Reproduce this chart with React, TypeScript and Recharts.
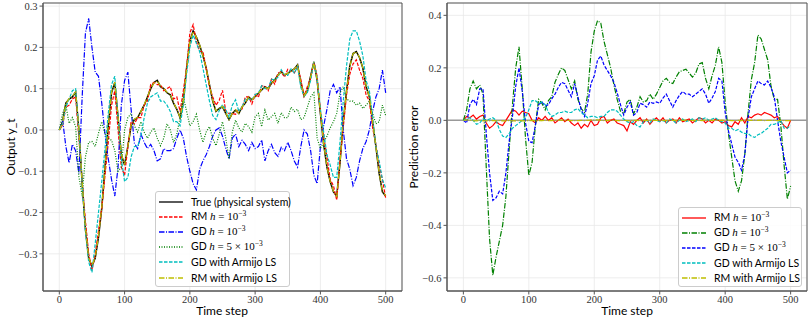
import React from 'react';
import { LineChart, Line, XAxis, YAxis, CartesianGrid, ReferenceLine, ReferenceArea, Legend, Label } from 'recharts';

// ---------------- data (every 5 time steps) ----------------
const timeSteps = [
  0, 5, 10, 15, 20, 25, 30, 35, 40, 45,
  50, 55, 60, 65, 70, 75, 80, 85, 90, 95,
  100, 105, 110, 115, 120, 125, 130, 135, 140, 145,
  150, 155, 160, 165, 170, 175, 180, 185, 190, 195,
  200, 205, 210, 215, 220, 225, 230, 235, 240, 245,
  250, 255, 260, 265, 270, 275, 280, 285, 290, 295,
  300, 305, 310, 315, 320, 325, 330, 335, 340, 345,
  350, 355, 360, 365, 370, 375, 380, 385, 390, 395,
  400, 405, 410, 415, 420, 425, 430, 435, 440, 445,
  450, 455, 460, 465, 470, 475, 480, 485, 490, 495,
  500,
];

// Left panel: outputs
const trueOutput = [
  0.0, 0.02, 0.065, 0.075, 0.08, 0.092, 0.0, -0.13, -0.24, -0.31,
  -0.33, -0.31, -0.26, -0.19, -0.09, 0.01, 0.09, 0.115, 0.03, -0.06,
  -0.085, -0.04, 0.01, 0.025, 0.03, 0.045, 0.06, 0.08, 0.1, 0.115,
  0.12, 0.105, 0.1, 0.09, 0.085, 0.065, 0.05, 0.03, 0.07, 0.15,
  0.215, 0.24, 0.225, 0.205, 0.18, 0.15, 0.11, 0.07, 0.045, 0.052,
  0.056, 0.04, 0.025, 0.04, 0.048, 0.04, 0.056, 0.065, 0.08, 0.073,
  0.081, 0.089, 0.097, 0.105, 0.1, 0.113, 0.121, 0.133, 0.141, 0.133,
  0.137, 0.143, 0.148, 0.158, 0.113, 0.082, 0.095, 0.13, 0.165, 0.12,
  0.04, -0.035, -0.09, -0.125, -0.15, -0.16, -0.08, 0.02, 0.095, 0.155,
  0.185, 0.19, 0.175, 0.15, 0.105, 0.08, 0.02, -0.04, -0.105, -0.15,
  -0.16,
];
const rmOutput = [
  0.0, 0.01, 0.055, 0.06, 0.075, 0.08, -0.02, -0.125, -0.22, -0.3,
  -0.34, -0.3, -0.245, -0.19, -0.11, -0.03, 0.06, 0.095, 0.0, -0.09,
  -0.11, -0.04, 0.02, 0.015, 0.03, 0.03, 0.06, 0.07, 0.11, 0.115,
  0.11, 0.11, 0.095, 0.1, 0.105, 0.075, 0.08, 0.045, 0.095, 0.15,
  0.235, 0.255, 0.215, 0.19, 0.19, 0.15, 0.105, 0.08, 0.06, 0.072,
  0.096, 0.045, 0.04, 0.04, 0.038, 0.05, 0.051, 0.08, 0.08, 0.063,
  0.086, 0.079, 0.107, 0.105, 0.095, 0.123, 0.111, 0.138, 0.141, 0.128,
  0.147, 0.143, 0.138, 0.153, 0.123, 0.082, 0.105, 0.125, 0.165, 0.13,
  0.045, -0.015, -0.065, -0.12, -0.135, -0.17, -0.07, 0.005, 0.085, 0.135,
  0.16, 0.17, 0.145, 0.125, 0.085, 0.07, 0.005, -0.035, -0.085, -0.12,
  -0.165,
];
const gdOutput = [
  0.0, 0.024, -0.04, -0.08, -0.035, -0.05, -0.105, 0.08, 0.235, 0.27,
  0.2, 0.14, 0.13, 0.065, -0.01, -0.07, -0.12, -0.16, -0.09, 0.06,
  0.12, 0.14, 0.05, -0.032, -0.045, -0.01, -0.03, -0.045, -0.035, -0.05,
  -0.075, -0.07, -0.045, -0.05, -0.05, -0.045, -0.02, 0.0, -0.02, -0.065,
  -0.1, -0.13, -0.145, -0.095, -0.075, -0.06, -0.04, -0.015, 0.0, 0.005,
  -0.015, -0.045, -0.07, -0.02, -0.01, -0.04, -0.025, -0.035, -0.05, -0.03,
  -0.045, -0.04, -0.024, -0.075, -0.05, -0.035, -0.055, -0.064, -0.042, -0.05,
  -0.03, -0.05, -0.075, -0.09, -0.04, 0.0, -0.01, -0.05, -0.11, -0.13,
  -0.04, 0.01, 0.05, 0.095, 0.11, 0.09, 0.105, 0.0, -0.07, -0.095,
  -0.135, -0.115, -0.075, -0.045, -0.028, 0.0, 0.045, 0.08, 0.1, 0.145,
  0.09,
];
const gd5Output = [
  0.0, 0.04, 0.06, 0.016, 0.03, 0.008, -0.113, -0.16, -0.065, -0.03,
  -0.028, -0.04, -0.008, 0.02, -0.01, -0.02, -0.025, -0.05, -0.1, -0.09,
  0.0, 0.03, 0.04, 0.01, -0.005, 0.02, -0.005, -0.02, -0.005, 0.005,
  -0.02, -0.038, -0.02, 0.015, 0.0, -0.03, -0.01, 0.03, 0.08, 0.045,
  0.01, 0.02, 0.038, 0.0, -0.03, -0.005, 0.008, -0.02, -0.038, -0.01,
  0.02, -0.02, -0.07, -0.005, 0.024, 0.005, -0.005, 0.016, 0.008, -0.005,
  0.032, 0.04, 0.008, 0.048, 0.024, 0.032, 0.04, 0.016, 0.042, 0.03,
  0.03, 0.055, 0.045, 0.05, 0.025, 0.03, 0.055, 0.08, 0.09, -0.02,
  -0.045, -0.03, -0.015, 0.005, 0.02, 0.04, 0.09, 0.105, 0.075, 0.07,
  0.07, 0.06, 0.065, 0.052, 0.06, 0.07, 0.04, 0.015, 0.02, 0.06,
  0.035,
];
const gdArmijoOutput = [
  0.0, 0.015, 0.055, 0.075, 0.095, 0.1, -0.005, -0.13, -0.245, -0.32,
  -0.345, -0.275, -0.2, -0.125, -0.045, 0.04, 0.11, 0.13, 0.03, -0.07,
  -0.125, -0.115, -0.065, -0.04, -0.04, -0.015, 0.03, 0.065, 0.08, 0.085,
  0.09, 0.07, 0.07, 0.06, 0.045, 0.02, 0.02, 0.01, 0.06, 0.135,
  0.2, 0.23, 0.21, 0.19, 0.15, 0.11, 0.07, 0.035, 0.025, 0.047,
  0.061, 0.05, 0.03, 0.06, 0.073, 0.045, 0.056, 0.075, 0.075, 0.073,
  0.086, 0.089, 0.107, 0.1, 0.1, 0.123, 0.121, 0.128, 0.146, 0.133,
  0.132, 0.148, 0.138, 0.153, 0.103, 0.082, 0.09, 0.12, 0.165, 0.125,
  0.05, -0.005, -0.06, -0.085, -0.115, -0.115, -0.03, 0.07, 0.155, 0.22,
  0.24, 0.24, 0.215, 0.18, 0.12, 0.095, 0.03, -0.04, -0.075, -0.12,
  -0.14,
];
const rmArmijoOutput = [
  0.0, 0.018, 0.064, 0.076, 0.082, 0.092, 0.002, -0.128, -0.238, -0.31,
  -0.328, -0.309, -0.258, -0.188, -0.09, 0.012, 0.092, 0.116, 0.032, -0.058,
  -0.084, -0.04, 0.012, 0.026, 0.031, 0.045, 0.061, 0.081, 0.1, 0.114,
  0.119, 0.106, 0.1, 0.091, 0.086, 0.066, 0.05, 0.031, 0.07, 0.149,
  0.214, 0.238, 0.225, 0.206, 0.18, 0.149, 0.11, 0.071, 0.046, 0.052,
  0.057, 0.041, 0.025, 0.04, 0.049, 0.04, 0.056, 0.066, 0.08, 0.073,
  0.082, 0.089, 0.098, 0.104, 0.1, 0.113, 0.12, 0.133, 0.14, 0.134,
  0.137, 0.142, 0.148, 0.157, 0.113, 0.083, 0.095, 0.129, 0.164, 0.12,
  0.041, -0.034, -0.089, -0.125, -0.149, -0.161, -0.081, 0.02, 0.094, 0.154,
  0.185, 0.189, 0.176, 0.15, 0.106, 0.08, 0.021, -0.04, -0.104, -0.149,
  -0.159,
];

// Right panel: prediction errors
const rmError = [
  0.0, 0.015, 0.01, 0.02, 0.005, 0.015, 0.02, -0.01, -0.03, -0.02,
  -0.005, -0.015, -0.02, 0.0, 0.02, 0.04, 0.035, 0.02, 0.035, 0.03,
  0.025, 0.0, -0.01, 0.01, 0.0, 0.015, 0.0, 0.01, -0.01, 0.0,
  0.01, -0.005, 0.005, -0.01, -0.02, -0.01, -0.03, -0.015, -0.025, 0.0,
  -0.02, -0.015, 0.01, 0.015, -0.01, 0.0, 0.005, -0.01, -0.015, -0.02,
  -0.04, -0.005, -0.015, 0.0, 0.01, -0.01, 0.005, -0.015, 0.0, 0.01,
  -0.005, 0.01, -0.01, 0.0, 0.005, -0.01, 0.01, -0.005, 0.0, 0.005,
  -0.01, 0.0, 0.01, 0.005, -0.01, 0.0, -0.01, 0.005, 0.0, -0.01,
  -0.005, -0.02, -0.025, -0.005, -0.015, 0.01, -0.01, 0.015, 0.01, 0.02,
  0.025, 0.02, 0.03, 0.025, 0.02, 0.01, 0.015, -0.005, -0.02, -0.03,
  0.0,
];
const gdError = [
  0.0, 0.04, 0.12, 0.15, 0.12, 0.135, 0.1, -0.18, -0.45, -0.59,
  -0.52, -0.46, -0.4, -0.29, -0.11, 0.06, 0.2, 0.28, 0.12, -0.07,
  -0.21, -0.16, -0.02, 0.08, 0.065, 0.04, 0.075, 0.09, 0.145, 0.175,
  0.2, 0.19, 0.155, 0.12, 0.15, 0.08, 0.045, 0.03, 0.1, 0.26,
  0.34, 0.38, 0.37, 0.3, 0.25, 0.2, 0.135, 0.08, 0.035, 0.025,
  0.07, 0.08, 0.025, 0.05, 0.09, 0.07, 0.075, 0.1, 0.08, 0.1,
  0.125, 0.15, 0.16, 0.145, 0.14, 0.165, 0.185, 0.19, 0.195, 0.18,
  0.165, 0.18, 0.215, 0.22, 0.16, 0.12, 0.17, 0.21, 0.28, 0.22,
  0.07, -0.05, -0.14, -0.23, -0.27, -0.23, -0.13, 0.03, 0.155, 0.22,
  0.325, 0.31, 0.27, 0.23, 0.13, 0.08, 0.08, -0.02, -0.17, -0.3,
  -0.25,
];
const gd5Error = [
  0.0, -0.01, 0.06, 0.08, 0.06, 0.12, 0.12, -0.05, -0.2, -0.305,
  -0.295, -0.27, -0.28, -0.2, -0.08, 0.015, 0.13, 0.2, 0.11, -0.01,
  -0.08, -0.085, -0.02, 0.06, 0.07, 0.055, 0.06, 0.082, 0.1, 0.125,
  0.145, 0.14, 0.115, 0.09, 0.14, 0.09, 0.04, 0.015, 0.065, 0.14,
  0.17, 0.23, 0.245, 0.21, 0.19, 0.17, 0.145, 0.105, 0.06, 0.02,
  0.05, 0.07, 0.02, 0.03, 0.065, 0.06, 0.05, 0.07, 0.065, 0.07,
  0.065, 0.085, 0.1, 0.075, 0.05, 0.075, 0.095, 0.11, 0.1, 0.1,
  0.09, 0.1, 0.11, 0.12, 0.1, 0.065, 0.085, 0.11, 0.16, 0.15,
  0.03, -0.04, -0.09, -0.14, -0.16, -0.19, -0.13, 0.01, 0.09, 0.12,
  0.15, 0.14, 0.135, 0.15, 0.125, 0.09, 0.0, -0.08, -0.14, -0.2,
  -0.19,
];
const gdArmijoError = [
  0.0, 0.005, 0.01, 0.0, -0.015, -0.01, 0.005, 0.0, 0.005, 0.01,
  0.0, -0.035, -0.06, -0.065, -0.05, -0.03, -0.02, -0.01, 0.0, 0.01,
  0.04, 0.075, 0.075, 0.065, 0.07, 0.06, 0.03, 0.015, 0.02, 0.03,
  0.03, 0.035, 0.03, 0.03, 0.04, 0.045, 0.03, 0.02, 0.01, 0.015,
  0.015, 0.01, 0.015, 0.015, 0.03, 0.04, 0.04, 0.035, 0.02, 0.005,
  -0.005, -0.01, -0.005, -0.02, -0.025, -0.005, 0.0, -0.01, 0.005, 0.0,
  -0.005, 0.0, -0.01, 0.005, 0.0, -0.01, 0.0, 0.005, -0.005, 0.0,
  0.005, -0.005, 0.01, 0.005, 0.01, 0.0, 0.005, 0.01, 0.0, -0.005,
  -0.01, -0.03, -0.03, -0.04, -0.035, -0.045, -0.05, -0.05, -0.06, -0.065,
  -0.055, -0.05, -0.04, -0.03, -0.015, -0.015, -0.01, 0.0, -0.03, -0.03,
  -0.02,
];
const rmArmijoError = [
  0, 0.002, 0.001, -0.001, -0.002, 0, -0.002, -0.002, -0.002, 0,
  -0.002, -0.001, -0.002, -0.002, 0, -0.002, -0.002, -0.001, -0.002, -0.002,
  -0.001, 0, -0.002, -0.001, -0.001, 0, -0.001, -0.001, 0, 0.001,
  0.001, -0.001, 0, -0.001, -0.001, -0.001, 0, -0.001, 0, 0.001,
  0.001, 0.002, 0, -0.001, 0, 0.001, 0, -0.001, -0.001, 0,
  -0.001, -0.001, 0, 0, -0.001, 0, 0, 0, 0, 0,
  -0.001, 0, -0.001, 0.001, 0, 0, 0.001, 0, 0.001, -0.001,
  0, -0.001, 0, -0.001, 0.001, 0, 0, 0, 0, 0.001,
  0, 0, -0.001, -0.001, 0, -0.001, 0.001, 0, 0, 0.001,
  0, 0.001, -0.001, 0, 0, 0, -0.001, 0, -0.001, -0.001,
  -0.001,
];

const xTicks = [0, 100, 200, 300, 400, 500];
const leftYTicks = [-0.3, -0.2, -0.1, 0, 0.1, 0.2, 0.3];
const rightYTicks = [-0.6, -0.4, -0.2, 0, 0.2, 0.4];

// ---------------- styling ----------------
const C = { k: '#000000', r: '#ff0000', b: '#0000ff', g: '#008000', c: '#00bfbf', y: '#bfbf00' };
const DASH = '3.5 1.5';
const DASHDOT = '5.5 1.5 1 1.5';
const DOT = '1 1.5';

const serif = '"Liberation Serif", "DejaVu Serif", serif';
const sans = 'Lato, "Open Sans", "DejaVu Sans", sans-serif';
const tickStyle = { fontFamily: serif, fontSize: 10.5, fill: '#333' };
const fmtY = (v: number) => (v < 0 ? '\u2212' + Math.abs(v).toFixed(1) : v.toFixed(1));

const leftData = timeSteps.map((t, i) => ({
  t,
  trueY: trueOutput[i],
  rm: rmOutput[i],
  gd: gdOutput[i],
  gd5: gd5Output[i],
  gdA: gdArmijoOutput[i],
  rmA: rmArmijoOutput[i],
}));
const rightData = timeSteps.map((t, i) => ({
  t,
  rm: rmError[i],
  gd: gdError[i],
  gd5: gd5Error[i],
  gdA: gdArmijoError[i],
  rmA: rmArmijoError[i],
}));

const M = (s: string) => <span style={{ fontFamily: serif, fontSize: 11 }}>{s}</span>;
const Hh = <span style={{ fontFamily: serif, fontStyle: 'italic', fontSize: 11 }}>h</span>;
const Sup = (s: string) => (
  <span style={{ fontFamily: serif, fontSize: 7.5, position: 'relative', top: -4 }}>{s}</span>
);

type Item = { color: string; dash?: string; label: React.ReactNode };

const leftItems: Item[] = [
  { color: C.k, label: 'True (physical system)' },
  { color: C.r, dash: DASH, label: <>RM {Hh}{M(' = 10')}{Sup('\u22123')}</> },
  { color: C.b, dash: DASHDOT, label: <>GD {Hh}{M(' = 10')}{Sup('\u22123')}</> },
  { color: C.g, dash: DOT, label: <>GD {Hh}{M(' = 5 \u00d7 10')}{Sup('\u22123')}</> },
  { color: C.c, dash: DASH, label: 'GD with Armijo LS' },
  { color: C.y, dash: DASHDOT, label: 'RM with Armijo LS' },
];
const rightItems: Item[] = [
  { color: C.r, label: <>RM {Hh}{M(' = 10')}{Sup('\u22123')}</> },
  { color: C.g, dash: DASHDOT, label: <>GD {Hh}{M(' = 10')}{Sup('\u22123')}</> },
  { color: C.b, dash: DASH, label: <>GD {Hh}{M(' = 5 \u00d7 10')}{Sup('\u22123')}</> },
  { color: C.c, dash: DASH, label: 'GD with Armijo LS' },
  { color: C.y, dash: DASHDOT, label: 'RM with Armijo LS' },
];

function LegendBox({ items }: { items: Item[] }) {
  return (
    <div
      style={{
        border: '1px solid #cccccc',
        borderRadius: 3,
        background: 'rgba(255,255,255,0.85)',
        boxSizing: 'border-box',
        padding: '2px 4px 2px 3px',
        fontFamily: sans,
        fontSize: 10.5,
        color: '#000',
        width: '100%',
        height: '100%',
      }}
    >
      {items.map((it, i) => (
        <div key={i} style={{ display: 'flex', alignItems: 'center', height: 15.2, whiteSpace: 'nowrap' }}>
          <svg width={24} height={10} style={{ flex: 'none' }}>
            <line x1={0} x2={24} y1={5} y2={5} stroke={it.color} strokeWidth={1.3} strokeDasharray={it.dash} />
          </svg>
          <span style={{ marginLeft: 8, lineHeight: '12px' }}>{it.label}</span>
        </div>
      ))}
    </div>
  );
}

const yLabel = (text: string, x: number, y: number) => () => (
  <text
    transform={`translate(${x},${y}) rotate(-90)`}
    textAnchor="middle"
    dominantBaseline="central"
    style={{ fontFamily: sans, fontSize: 12, fill: '#000' }}
  >
    {text}
  </text>
);
const xLabel = (text: string, x: number, y: number) => () => (
  <text x={x} y={y} textAnchor="middle" style={{ fontFamily: sans, fontSize: 12, fill: '#000' }}>
    {text}
  </text>
);

const LW = 1.2;

export default function App() {
  const LD: [number, number] = [-0.39, 0.3075];
  const RD: [number, number] = [-0.65, 0.447];
  return (
    <div style={{ position: 'absolute', left: 0, top: 0, width: 810, height: 321, background: '#fff', display: 'flex' }}>
      <LineChart width={405} height={321} data={leftData} margin={{ top: 3, right: 3, bottom: 0, left: 0 }}>
        <CartesianGrid stroke="#e9e9e9" strokeWidth={0.8} />
        <XAxis
          dataKey="t"
          type="number"
          domain={[-25, 525]}
          ticks={xTicks}
          allowDataOverflow
          height={30}
          tickSize={3.5}
          tickMargin={1}
          tick={tickStyle}
          stroke="#555"
          tickLine={{ stroke: '#555' }}
        >
          <Label content={xLabel('Time step', 222, 315)} />
        </XAxis>
        <YAxis
          type="number"
          domain={LD}
          ticks={leftYTicks}
          allowDataOverflow
          width={43}
          tickSize={3.5}
          tickMargin={2}
          tick={tickStyle}
          tickFormatter={fmtY}
          stroke="#555"
          tickLine={{ stroke: '#555' }}
        >
          <Label content={yLabel('Output y_t', 10, 147)} />
        </YAxis>
        <Line dataKey="trueY" stroke={C.k} strokeWidth={1.5} dot={false} isAnimationActive={false} />
        <Line dataKey="rm" stroke={C.r} strokeWidth={LW} strokeDasharray={DASH} dot={false} isAnimationActive={false} />
        <Line dataKey="gd" stroke={C.b} strokeWidth={LW} strokeDasharray={DASHDOT} dot={false} isAnimationActive={false} />
        <Line dataKey="gd5" stroke={C.g} strokeWidth={LW} strokeDasharray={DOT} dot={false} isAnimationActive={false} />
        <Line dataKey="gdA" stroke={C.c} strokeWidth={LW} strokeDasharray={DASH} dot={false} isAnimationActive={false} />
        <Line dataKey="rmA" stroke={C.y} strokeWidth={LW} strokeDasharray={DASHDOT} dot={false} isAnimationActive={false} />
        <ReferenceArea x1={-25} x2={525} y1={LD[0]} y2={LD[1]} fill="none" stroke="#555" strokeWidth={1} ifOverflow="visible" />
        <Legend
          layout="horizontal"
          verticalAlign="middle"
          align="center"
          wrapperStyle={{ left: 155, top: 191, width: 135, height: 96 }}
          content={() => <LegendBox items={leftItems} />}
        />
      </LineChart>
      <LineChart width={405} height={321} data={rightData} margin={{ top: 3, right: 3, bottom: 0, left: 0 }}>
        <CartesianGrid stroke="#e9e9e9" strokeWidth={0.8} />
        <XAxis
          dataKey="t"
          type="number"
          domain={[-25, 525]}
          ticks={xTicks}
          allowDataOverflow
          height={30}
          tickSize={3.5}
          tickMargin={1}
          tick={tickStyle}
          stroke="#555"
          tickLine={{ stroke: '#555' }}
        >
          <Label content={xLabel('Time step', 222, 315)} />
        </XAxis>
        <YAxis
          type="number"
          domain={RD}
          ticks={rightYTicks}
          allowDataOverflow
          width={42}
          tickSize={3.5}
          tickMargin={2}
          tick={tickStyle}
          tickFormatter={fmtY}
          stroke="#555"
          tickLine={{ stroke: '#555' }}
        >
          <Label content={yLabel('Prediction error', 8, 147)} />
        </YAxis>
        <ReferenceLine y={0} stroke="#999" strokeWidth={1.5} />
        <Line dataKey="rm" stroke={C.r} strokeWidth={LW} dot={false} isAnimationActive={false} />
        <Line dataKey="gd" stroke={C.g} strokeWidth={LW} strokeDasharray={DASHDOT} dot={false} isAnimationActive={false} />
        <Line dataKey="gd5" stroke={C.b} strokeWidth={LW} strokeDasharray={DASH} dot={false} isAnimationActive={false} />
        <Line dataKey="gdA" stroke={C.c} strokeWidth={LW} strokeDasharray={DASH} dot={false} isAnimationActive={false} />
        <Line dataKey="rmA" stroke={C.y} strokeWidth={LW} strokeDasharray={DASHDOT} dot={false} isAnimationActive={false} />
        <ReferenceArea x1={-25} x2={525} y1={RD[0]} y2={RD[1]} fill="none" stroke="#555" strokeWidth={1} ifOverflow="visible" />
        <Legend
          layout="horizontal"
          verticalAlign="middle"
          align="center"
          wrapperStyle={{ left: 273, top: 207, width: 124, height: 80 }}
          content={() => <LegendBox items={rightItems} />}
        />
      </LineChart>
    </div>
  );
}
